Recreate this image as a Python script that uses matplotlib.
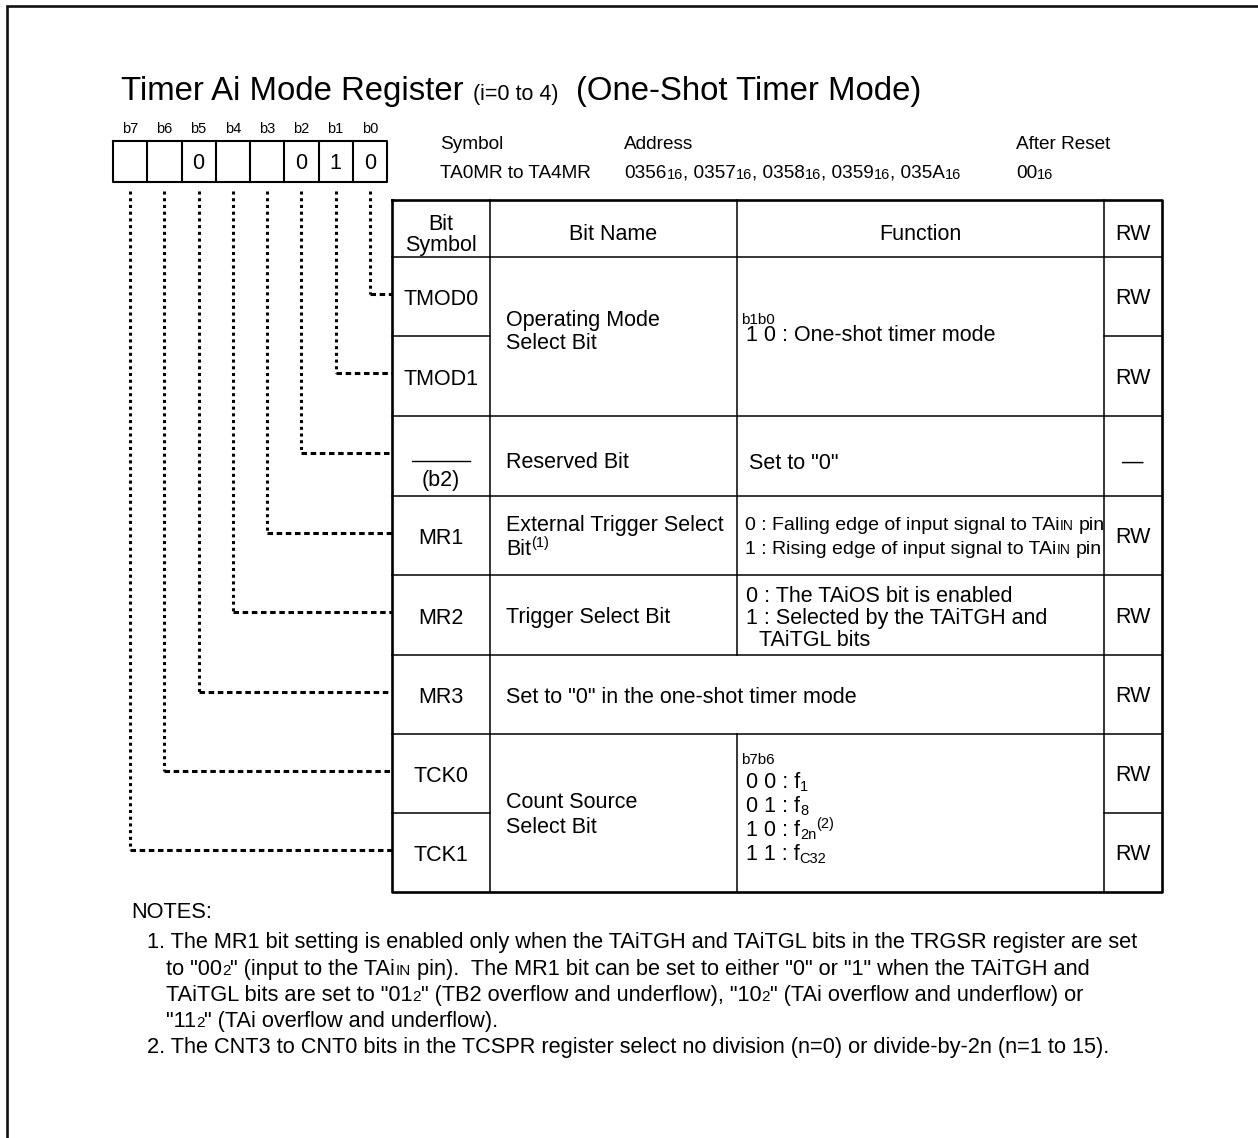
import matplotlib.pyplot as plt

plt.rcParams['font.family'] = ['Liberation Sans', 'DejaVu Sans']

# ── register content ─────────────────────────────────────────────────────────
BIT_LABELS = ["b7", "b6", "b5", "b4", "b3", "b2", "b1", "b0"]
BIT_VALUES = ["", "", "0", "", "", "0", "1", "0"]

ROW_SYMBOLS = ["TMOD0", "TMOD1", "(b2)", "MR1", "MR2", "MR3", "TCK0", "TCK1"]   # b0..b7
ROW_RW      = ["RW", "RW", "\u2014", "RW", "RW", "RW", "RW", "RW"]
HEADERS     = ["Bit Name", "Function", "RW"]

INFO_HEAD = ["Symbol", "Address", "After Reset"]
INFO_SYMBOL = "TA0MR to TA4MR"
INFO_ADDR = ["0356", "0357", "0358", "0359", "035A"]
INFO_RESET = "00"

# bit name cells: list of text lines, each line a list of runs (text, kind)
BIT_NAMES = [
    [[("Operating Mode", "n")], [("Select Bit", "n")]],
    [[("Reserved Bit", "n")]],
    [[("External Trigger Select", "n")], [("Bit", "n"), ("(1)", "sup")]],
    [[("Trigger Select Bit", "n")]],
    [[("Set to \"0\" in the one-shot timer mode", "n")]],
    [[("Count Source", "n")], [("Select Bit", "n")]],
]
FUNC_TMOD = [("b1b0", "tiny"), ("1 0 : One-shot timer mode", "n")]
FUNC_RESERVED = "Set to \"0\""
FUNC_MR1 = [
    [("0 : Falling edge of input signal to TAi", "c"), ("IN", "csc"), (" pin", "c")],
    [("1 : Rising edge of input signal to TAi", "c"), ("IN", "csc"), (" pin", "c")],
]
FUNC_MR2 = ["0 : The TAiOS bit is enabled", "1 : Selected by the TAiTGH and", "TAiTGL bits"]
FUNC_TCK = [
    [("0 0 : f", "n"), ("1", "sub")],
    [("0 1 : f", "n"), ("8", "sub")],
    [("1 0 : f", "n"), ("2n", "sub"), ("(2)", "sup")],
    [("1 1 : f", "n"), ("C32", "sub")],
]

NOTES = [
    [("1. The MR1 bit setting is enabled only when the TAiTGH and TAiTGL bits in the TRGSR register are set", "t")],
    [("to \"00", "t"), ("2", "tsc"), ("\" (input to the TAi", "t"), ("IN", "tsc"),
     (" pin).  The MR1 bit can be set to either \"0\" or \"1\" when the TAiTGH and", "t")],
    [("TAiTGL bits are set to \"01", "t"), ("2", "tsc"), ("\" (TB2 overflow and underflow), \"10", "t"),
     ("2", "tsc"), ("\" (TAi overflow and underflow) or", "t")],
    [("\"11", "t"), ("2", "tsc"), ("\" (TAi overflow and underflow).", "t")],
    [("2. The CNT3 to CNT0 bits in the TCSPR register select no division (n=0) or divide-by-2n (n=1 to 15).", "t")],
]

# ── text styles: kind -> (size pt, vertical shift px) ────────────────────────
STYLE = {
    "n": (15.5, 0), "sup": (10.5, -8), "sub": (10.5, 3),
    "c": (14, 0), "csc": (10, 0),
    "tiny": (11, 0), "t": (15.7, 0), "tsc": (11, 0),
    "info": (13.7, 0), "isc": (10.5, 1),
    "title": (23.7, 0), "tsm": (15.5, 0),
}

W, H = 1258, 1138
fig = plt.figure(figsize=(W / 100, H / 100), dpi=100)
ax = fig.add_axes([0, 0, 1, 1])
ax.set_xlim(0, W)
ax.set_ylim(H, 0)
ax.axis('off')
renderer = fig.canvas.get_renderer()


def text_w(s, size):
    t = ax.text(0, 0, '|' + s + '|', fontsize=size)
    w1 = t.get_window_extent(renderer).width
    t.set_text('||')
    w2 = t.get_window_extent(renderer).width
    t.remove()
    return w1 - w2


def runs(x, yc, parts, ha='left'):
    """Draw a line of mixed-size text; yc is the cap-centre of the main run."""
    base = yc + 0.36 * STYLE[parts[0][1]][0] * 100 / 72
    widths = [text_w(s, STYLE[k][0]) for s, k in parts]
    total = sum(widths)
    cx = x - total / 2 if ha == 'center' else x
    for (s, k), w in zip(parts, widths):
        size, dy = STYLE[k]
        lead = len(s) - len(s.lstrip(' '))
        off = text_w(s[:lead], size) if lead else 0
        ax.text(cx + off, base + dy, s.strip(' '), fontsize=size,
                ha='left', va='baseline', color='black')
        cx += w


# ── outer frame ──────────────────────────────────────────────────────────────
ax.plot([7, 7, W], [H, 6, 6], color='#111111', lw=1.9, solid_joinstyle='miter')

# ── title ────────────────────────────────────────────────────────────────────
runs(121, 88, [("Timer Ai Mode Register ", "title"), ("(i=0 to 4)", "tsm"),
               ("  (One-Shot Timer Mode)", "title")])

# ── bit boxes ────────────────────────────────────────────────────────────────
BX0, BX1, BY0, BY1 = 113, 387, 141, 182
cw = (BX1 - BX0) / 8
bit_x = [BX0 + cw * (i + 0.5) for i in range(8)]
ax.plot([BX0, BX1, BX1, BX0, BX0], [BY0, BY0, BY1, BY1, BY0], color='black', lw=1.5)
for i in range(1, 8):
    ax.plot([BX0 + cw * i] * 2, [BY0, BY1], color='black', lw=1.5)
for i, (lab, val) in enumerate(zip(BIT_LABELS, BIT_VALUES)):
    ax.text(bit_x[i], 129, lab, fontsize=10.5, ha='center', va='center')
    if val:
        ax.text(bit_x[i], 163, val, fontsize=15.5, ha='center', va='center')

# ── symbol / address / reset ─────────────────────────────────────────────────
for x, s in zip([440, 624, 1016], INFO_HEAD):
    runs(x, 142, [(s, "info")])
runs(440, 171, [(INFO_SYMBOL, "info")])
addr = []
for j, a in enumerate(INFO_ADDR):
    addr.append((("" if j == 0 else ", ") + a, "info"))
    addr.append(("16", "isc"))
runs(624, 171, addr)
runs(1016, 171, [(INFO_RESET, "info"), ("16", "isc")])

# ── table grid ───────────────────────────────────────────────────────────────
XT = [392, 490, 737, 1104, 1162]
YT = [200, 257, 336, 416, 496, 575, 655, 734, 813, 892]
thin, thick = 1.1, 1.9
ax.plot([XT[0], XT[4], XT[4], XT[0], XT[0]], [YT[0], YT[0], YT[-1], YT[-1], YT[0]],
        color='black', lw=thick)
for y in [YT[1], YT[3], YT[4], YT[5], YT[6], YT[7]]:
    ax.plot([XT[0], XT[4]], [y, y], color='black', lw=thin)
for y in [YT[2], YT[8]]:
    ax.plot([XT[0], XT[1]], [y, y], color='black', lw=thin)
    ax.plot([XT[3], XT[4]], [y, y], color='black', lw=thin)
ax.plot([XT[1]] * 2, [YT[0], YT[-1]], color='black', lw=thin)
ax.plot([XT[3]] * 2, [YT[0], YT[-1]], color='black', lw=thin)
ax.plot([XT[2]] * 2, [YT[0], YT[6]], color='black', lw=thin)
ax.plot([XT[2]] * 2, [YT[7], YT[-1]], color='black', lw=thin)

# header
sym_x = (XT[0] + XT[1]) / 2
rw_x = (XT[3] + XT[4]) / 2
runs(sym_x, 222, [("Bit", "n")], ha='center')
runs(sym_x, 243, [("Symbol", "n")], ha='center')
for x, h in zip([(XT[1] + XT[2]) / 2, (XT[2] + XT[3]) / 2, rw_x], HEADERS):
    runs(x, 232, [(h, "n")], ha='center')

# rows
row_c = [(YT[i + 1] + YT[i + 2]) / 2 for i in range(8)]
for i, (sym, rw) in enumerate(zip(ROW_SYMBOLS, ROW_RW)):
    yc = row_c[i]
    if sym == "(b2)":
        ax.plot([sym_x - 29, sym_x + 29], [461, 461], color='black', lw=1.0)
        runs(sym_x, 478, [(sym, "n")], ha='center')
    else:
        runs(sym_x, yc + 1, [(sym, "n")], ha='center')
    runs(rw_x, yc + (4 if rw != "RW" else 0), [(rw, "n")], ha='center')

    # leader line from the bit box
    bx = bit_x[7 - i]
    ly = yc - 3
    ax.plot([bx, bx], [BY1 + 9, ly], color='black', lw=2.2,
            linestyle=(0, (1, 1.2)), dash_capstyle='butt')
    ax.plot([bx, XT[0]], [ly, ly], color='black', lw=2.2,
            linestyle=(0, (1.8, 1.2)), dash_capstyle='butt')

# bit names
name_x = XT[1] + 16
name_pos = [[318, 341], [460], [523, 547], [615], [695], [800, 825]]
for lines, ys in zip(BIT_NAMES, name_pos):
    for parts, y in zip(lines, ys):
        runs(name_x, y, parts)

# functions
fx = XT[2] + 9
runs(XT[2] + 4, 318, [FUNC_TMOD[0]])
runs(fx, 333, [FUNC_TMOD[1]])
runs(XT[2] + 12, 461, [(FUNC_RESERVED, "n")])
for parts, y in zip(FUNC_MR1, [523, 547]):
    runs(XT[2] + 8, y, parts)
for s, x, y in zip(FUNC_MR2, [fx, fx, fx + 13], [594, 616, 638]):
    runs(x, y, [(s, "n")])
runs(XT[2] + 4, 758, [("b7b6", "tiny")])
for parts, y in zip(FUNC_TCK, [780, 804, 828, 852]):
    runs(fx, y, parts)

# ── notes ────────────────────────────────────────────────────────────────────
runs(131, 910, [("NOTES:", "t")])
note_x = [147, 166, 166, 166, 147]
note_y = [940, 967, 993, 1019, 1045]
for parts, x, y in zip(NOTES, note_x, note_y):
    runs(x, y, parts)

fig.savefig('out.png', dpi=100)
